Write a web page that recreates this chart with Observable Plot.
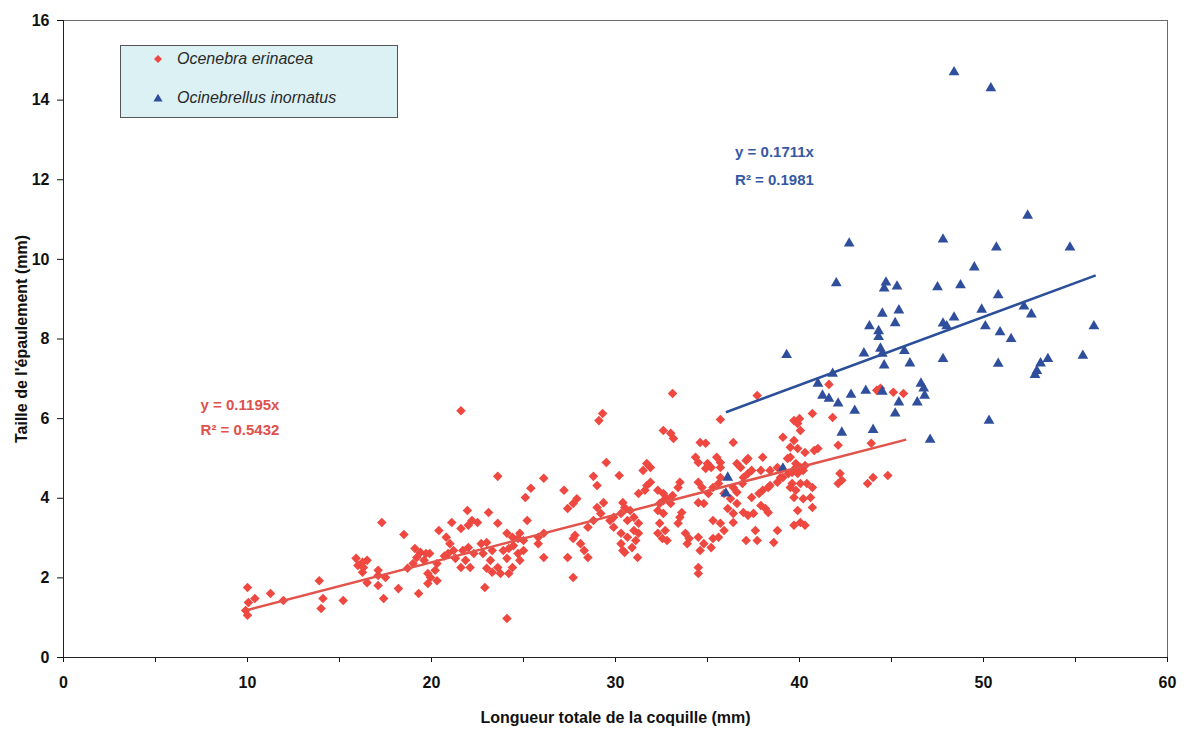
<!DOCTYPE html>
<html><head><meta charset="utf-8">
<script src="https://cdn.jsdelivr.net/npm/d3@7"></script>
<script src="https://cdn.jsdelivr.net/npm/@observablehq/plot@0.6"></script>
<style>
body{margin:0;background:#fff;}
#wrap{position:relative;width:1188px;height:733px;font-family:"Liberation Sans",Arial,sans-serif;}
#legend{position:absolute;left:120px;top:45px;width:278px;height:73px;background:#dcf1f4;border:1px solid #555;box-sizing:border-box;}
.item{position:absolute;left:32px;font-style:italic;font-size:16px;color:#2a2a2a;display:flex;align-items:center;white-space:nowrap;}
.item svg{margin-right:14px;}
</style></head>
<body><div id="wrap"><div id="chart"></div><div id="legend"></div></div>
<script>
// ---- data (mm) ----
const speciesNames = ["Ocenebra erinacea", "Ocinebrellus inornatus"];
const speciesColors = ["#ee4840", "#2f4f9c"];
const lineColors = ["#e2534b", "#2b4f98"];
const textColors = ["#e0504c", "#3558a3"];

const ocenebra = [
[10.0,1.76],[10.4,1.48],[10.05,1.38],[9.9,1.18],[10.0,1.06],[11.25,1.61],[11.95,1.43],[13.9,1.93],[14.1,1.48],[14.0,1.23],[15.2,1.43],[15.9,2.49],[16.25,2.39],[16.5,2.44],[16.0,2.31],[16.3,2.26],[16.25,2.14],[16.5,1.88],[17.1,2.19],[17.1,2.06],[17.5,2.01],[17.1,1.81],[18.2,1.73],[17.4,1.48],[17.3,3.39],[18.5,3.09],[19.1,2.74],[19.4,2.64],[19.7,2.61],[19.2,2.51],[19.6,2.44],[19.0,2.36],[19.3,1.61],[19.8,1.86],[19.8,2.11],[19.9,2.61],[18.7,2.24],
[21.6,6.2],[20.4,3.19],[20.8,3.02],[21.0,2.86],[21.2,2.69],[20.9,2.61],[21.3,2.49],[21.7,2.69],[22.0,2.76],[22.3,2.61],[21.85,2.44],[22.1,2.26],[21.6,2.26],[21.1,3.39],[21.6,3.24],[21.95,3.69],[22.2,3.44],[22.5,3.39],[22.0,3.32],[23.1,3.64],[23.6,4.55],[23.6,3.37],[22.7,2.86],[23.0,2.89],[23.3,2.69],[22.8,2.61],[23.2,2.44],[23.6,2.26],[23.3,2.14],[23.0,2.24],[23.75,2.11],[22.9,1.76],[19.95,2.01],[20.2,2.19],[20.3,2.36],[20.3,1.93],[20.7,2.55],
[24.1,0.98],[24.1,3.12],[24.4,3.02],[24.7,2.99],[24.8,3.12],[25.0,2.94],[24.45,2.81],[24.2,2.74],[23.9,2.69],[24.1,2.49],[24.4,2.26],[24.2,2.11],[24.7,2.61],[25.0,2.69],[24.8,2.44],[25.2,3.44],[25.4,4.25],[25.1,4.02],[26.1,4.5],[25.8,3.02],[25.8,2.86],[26.1,3.12],[26.1,2.51],[27.2,4.2],[27.4,2.51],[27.7,2.01],[27.9,3.99],[27.7,3.87],[27.4,3.74],[27.7,2.99],[27.8,3.07],[28.1,2.86],[28.3,2.69],[28.5,2.51],[28.5,3.27],[28.8,3.44],[29.2,3.62],[29.0,3.77],[29.35,3.89],[28.8,4.55],[29.0,4.32],[29.3,6.13],[29.1,5.95],[29.5,4.9],[30.2,4.57],
[29.9,3.52],[30.3,3.62],[30.5,3.77],[30.4,3.89],[29.7,3.44],[30.65,3.44],[29.9,3.27],[30.3,3.12],[30.65,3.02],[30.4,2.69],[30.8,3.69],[31.0,3.52],[31.25,3.37],[31.0,3.19],[31.25,3.12],[31.1,2.94],[30.9,2.76],[31.2,2.51],[30.5,2.64],[30.3,2.86],[31.7,4.87],[31.9,4.77],[31.5,4.7],[31.9,4.4],[31.7,4.32],[33.5,4.4],[33.4,4.27],[31.25,4.12],[31.6,4.2],[32.3,4.2],[32.6,4.12],[32.8,3.99],[33.1,4.07],[32.6,3.94],[32.4,3.87],[33.0,3.87],[33.1,6.63],[32.6,5.7],[33.0,5.63],[33.15,5.5],[32.3,3.69],[32.6,3.62],[32.4,3.37],[32.7,3.19],[32.3,3.12],[32.55,2.99],[32.8,2.94],[33.6,3.64],[33.5,3.52],[33.4,3.37],[34.5,3.89],[34.8,3.87],[33.8,3.12],[34.0,2.99],[33.9,2.86],[34.5,3.02],[34.8,2.86],[34.6,2.69],[35.2,2.76],[35.3,2.99],[35.6,3.02],[34.5,2.26],[34.5,2.11],[34.35,5.03],[34.5,4.9],[35.0,4.87],[35.2,4.77],[34.9,4.75],[34.5,4.4],[34.7,4.27],[35.05,4.12],[35.3,4.27],[34.6,5.4],[34.9,5.38],
[35.7,5.98],[36.4,5.4],[35.5,5.03],[35.7,4.9],[35.7,4.77],[36.6,4.87],[36.8,4.77],[37.1,4.95],[37.2,5.0],[38.0,5.03],[37.7,6.58],[35.7,4.52],[35.6,4.37],[36.4,4.27],[36.6,4.15],[36.9,4.37],[36.95,4.52],[37.2,4.62],[37.4,4.7],[35.9,4.12],[36.25,3.99],[36.6,3.87],[36.1,3.74],[36.4,3.62],[37.4,4.02],[37.8,4.12],[38.0,4.2],[38.3,4.27],[38.4,4.32],[38.8,4.4],[38.97,4.52],[37.9,4.7],[38.4,4.7],[38.8,4.77],[39.1,4.52],[39.4,4.62],[39.7,4.7],[39.5,5.03],[39.8,4.87],[39.6,4.37],[39.8,4.2],[39.7,4.02],[39.7,5.95],[40.0,6.0],[39.1,5.53],[39.7,5.45],[39.5,5.28],[35.3,3.44],[35.7,3.37],[35.9,3.19],[36.4,3.39],[36.95,3.64],[37.2,3.57],[37.5,3.62],[37.9,3.82],[38.15,3.74],[38.3,3.64],[37.6,3.19],[37.1,2.94],[37.7,2.94],[38.6,2.89],[38.8,3.19],[39.7,3.32],[39.9,3.69],
[41.6,6.86],[44.2,6.71],[44.4,6.76],[45.1,6.66],[45.65,6.63],[40.7,6.13],[41.8,6.03],[39.9,5.88],[40.05,5.7],[39.9,5.25],[40.3,5.15],[40.8,5.2],[41.0,5.25],[42.1,5.33],[43.9,5.38],[39.35,5.0],[39.8,4.77],[40.05,4.77],[40.3,4.82],[39.6,4.65],[39.9,4.62],[40.2,4.7],[39.5,4.27],[40.05,4.37],[40.4,4.37],[40.7,4.27],[40.6,4.02],[40.2,3.99],[40.7,3.77],[42.2,4.62],[42.3,4.45],[42.1,4.37],[43.7,4.37],[44.0,4.52],[44.8,4.57],[40.05,3.39],[40.3,3.32]
];

const ocinebrellus = [
[48.4,14.7],[50.4,14.3],[52.4,11.1],[47.8,10.5],[50.7,10.3],[54.7,10.3],[42.7,10.4],[49.5,9.8],[48.75,9.35],[42.0,9.4],[44.7,9.42],[44.6,9.27],[45.3,9.32],[47.5,9.3],[50.8,9.1],[49.9,8.74],[52.2,8.82],[52.6,8.62],[48.4,8.54],[47.8,8.39],[48.0,8.32],[50.1,8.32],[50.9,8.17],[51.5,8.0],[56.0,8.32],[47.8,7.5],[50.8,7.38],[53.5,7.5],[53.1,7.39],[52.9,7.2],[52.8,7.1],[55.4,7.58],[50.3,5.95],
[44.5,8.64],[45.4,8.72],[45.2,8.4],[43.8,8.32],[44.3,8.2],[44.3,8.05],[44.4,7.76],[39.3,7.6],[43.5,7.64],[44.5,7.63],[45.7,7.7],[44.6,7.34],[46.0,7.39],[41.8,7.13],[41.0,6.88],[41.25,6.58],[41.6,6.5],[42.1,6.38],[42.8,6.6],[43.6,6.7],[44.5,6.68],[46.6,6.88],[46.75,6.76],[46.8,6.58],[45.4,6.41],[46.4,6.41],[43.0,6.2],[45.2,6.13],[42.3,5.65],[44.0,5.72],[47.1,5.47],[36.1,4.52],[36.0,4.12],[39.1,4.75]
];

const trendSlopes = [0.1195, 0.1711];
const trendStart = [10, 36];
const trendEnd = [45.8, 56.1];
const eqLine1 = ["y = 0.1195x", "y = 0.1711x"];
const eqLine2 = ["R² = 0.5432", "R² = 0.1981"];
const eqX = [7.45, 36.5];
const eqY1 = [6.33, 12.69];
const eqY2 = [5.70, 11.98];

const yTicks = [0, 2, 4, 6, 8, 10, 12, 14, 16];
const xTicks = [0, 10, 20, 30, 40, 50, 60];
const xMinorTicks = [0, 5, 10, 15, 20, 25, 30, 35, 40, 45, 50, 55, 60];

// ---- derived tables ----
const pts1 = ocenebra.map(([x, y]) => ({x, y}));
const pts2 = ocinebrellus.map(([x, y]) => ({x, y}));
const trends = trendSlopes.map((s, i) => ({x1: trendStart[i], y1: s * trendStart[i], x2: trendEnd[i], y2: s * trendEnd[i], c: lineColors[i]}));
const labels = [];
eqLine1.forEach((t, i) => {
  labels.push({x: eqX[i], y: eqY1[i], t, c: textColors[i]});
  labels.push({x: eqX[i], y: eqY2[i], t: eqLine2[i], c: textColors[i]});
});

const chart = Plot.plot({
  width: 1188, height: 733,
  marginLeft: 63, marginRight: 21, marginTop: 20, marginBottom: 76,
  style: {fontFamily: "'Liberation Sans', Arial, sans-serif", fontSize: "15px", fontWeight: "bold", color: "#111", background: "#fff"},
  x: {domain: [0, 60]},
  y: {domain: [0, 16]},
  marks: [
    Plot.frame({stroke: "#6a6a6a"}),
    Plot.axisY({ticks: yTicks, tickSize: 6, tickPadding: 8, tickFormat: d => d, fontSize: 16, label: "Taille de l'épaulement (mm)", labelAnchor: "center", labelArrow: "none", labelOffset: 48}),
    Plot.axisX({ticks: xMinorTicks, tickSize: 5, tickFormat: () => "", label: null}),
    Plot.axisX({ticks: xTicks, tickSize: 0, tickPadding: 19, tickFormat: d => d, fontSize: 16, label: "Longueur totale de la coquille (mm)", labelAnchor: "center", labelArrow: "none", labelOffset: 65}),
    Plot.ruleX([0], {stroke: "#222"}),
    Plot.ruleY([0], {stroke: "#222"}),
    Plot.dot(pts1, {x: "x", y: "y", symbol: "diamond2", r: 4.3, fill: speciesColors[0], stroke: null}),
    Plot.dot(pts2, {x: "x", y: "y", symbol: "triangle", r: 4.0, fill: speciesColors[1], stroke: null}),
    Plot.link(trends, {x1: "x1", y1: "y1", x2: "x2", y2: "y2", stroke: "c", strokeWidth: 2.5}),
    Plot.text(labels, {x: "x", y: "y", text: "t", fill: "c", textAnchor: "start", fontSize: 15, fontWeight: "bold"})
  ]
});
document.getElementById("chart").appendChild(chart);

// legend
const legend = document.getElementById("legend");
const symbolsSvg = [
  '<svg width="10" height="10" viewBox="-5 -5 10 10"><path d="M0,-4L4,0L0,4L-4,0Z" fill="' + speciesColors[0] + '"/></svg>',
  '<svg width="10" height="10" viewBox="-5 -5 10 10"><path d="M0,-4.2L4.6,3.6L-4.6,3.6Z" fill="' + speciesColors[1] + '"/></svg>'
];
speciesNames.forEach((n, i) => {
  const d = document.createElement("div");
  d.className = "item";
  d.style.top = (i === 0 ? 4 : 43) + "px";
  d.innerHTML = symbolsSvg[i] + "<span>" + n + "</span>";
  legend.appendChild(d);
});
</script>
</body></html>
